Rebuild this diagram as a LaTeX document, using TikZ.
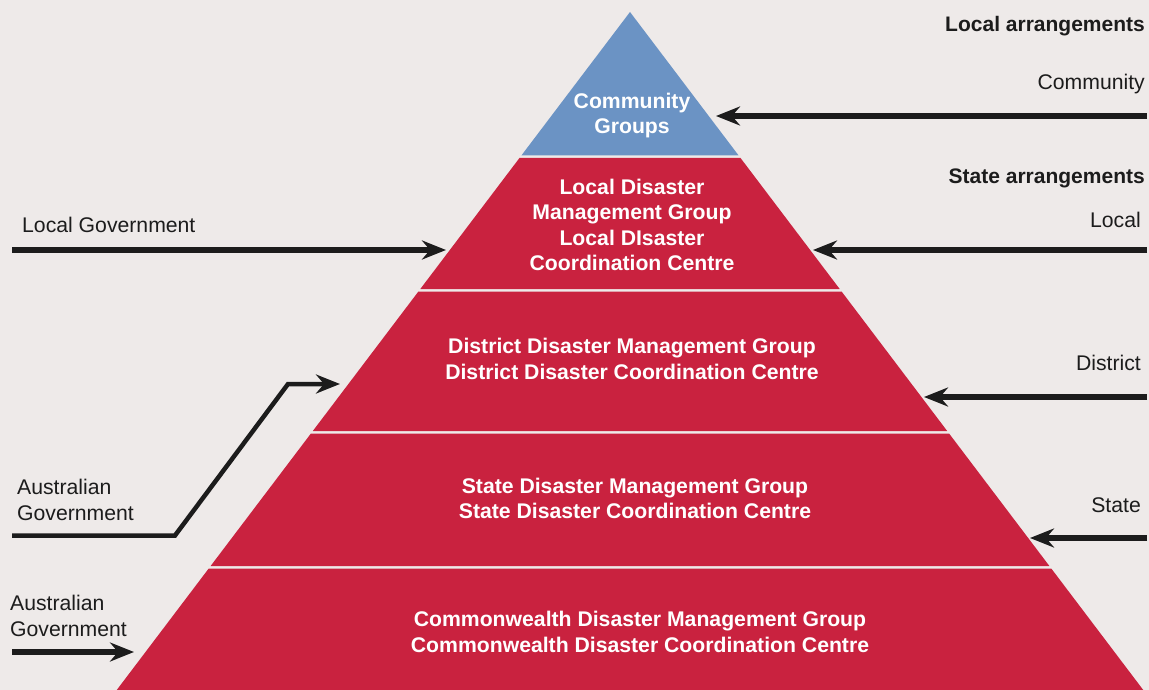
\documentclass[tikz,border=0pt]{standalone}
\usepackage{fontspec}
\setmainfont{Liberation Sans}
\usetikzlibrary{arrows.meta}
\definecolor{bgc}{HTML}{EEEAE9}
\definecolor{tierred}{HTML}{C9223F}
\definecolor{tierblue}{HTML}{6B93C4}
\definecolor{ink}{HTML}{1C1C1C}
\tikzset{
  tiertext/.style={text=white, font=\fontsize{21.2}{25.5}\selectfont\bfseries, align=center, inner sep=0pt},
  sidelabel/.style={text=ink, font=\fontsize{21.2}{26}\selectfont, inner sep=0pt},
  headlabel/.style={text=ink, font=\fontsize{21}{26}\selectfont\bfseries, inner sep=0pt},
  feed/.style={draw=ink, line width=5.5pt, line join=miter,
    -{Stealth[length=24pt, width=19pt, inset=8pt]}},
}
% left and right edge of the pyramid at height y
\newcommand{\pyrL}[1]{630-0.757*(#1-12)}
\newcommand{\pyrR}[1]{630+0.757*(#1-12)}
\begin{document}
\begin{tikzpicture}[x=1pt, y=-1pt]
\useasboundingbox (0,0) rectangle (1149,690);
\fill[bgc] (0,0) rectangle (1149,690);

% pyramid tiers
\fill[tierblue] (630,12) -- ({\pyrR{155.5}},155.5) -- ({\pyrL{155.5}},155.5) -- cycle;
\foreach \ya/\yb in {158/289, 291.5/431, 433.5/566, 568.5/690} {
  \fill[tierred] ({\pyrL{\ya}},\ya) -- ({\pyrR{\ya}},\ya) -- ({\pyrR{\yb}},\yb) -- ({\pyrL{\yb}},\yb) -- cycle;
}

% tier labels
\node[tiertext] (tcom) at (632,115.5) {Community\\Groups};
\node[tiertext] (tloc) at (632,225) {Local Disaster\\Management Group\\Local DIsaster\\Coordination Centre};
\node[tiertext] (tdis) at (632,359) {District Disaster Management Group\\District Disaster Coordination Centre};
\node[tiertext] (tsta) at (635,498.5) {State Disaster Management Group\\State Disaster Coordination Centre};
\node[tiertext] (tcw) at (640,632) {Commonwealth Disaster Management Group\\Commonwealth Disaster Coordination Centre};

% right-hand labels
\node[headlabel, anchor=east] (hlocal) at (1145,26) {Local arrangements};
\node[sidelabel, anchor=east] (lcomm) at (1145,84) {Community};
\node[headlabel, anchor=east] (hstate) at (1145,178) {State arrangements};
\node[sidelabel, anchor=east] (llocal) at (1141,220) {Local};
\node[sidelabel, anchor=east] (ldist) at (1141,363) {District};
\node[sidelabel, anchor=east] (lstate) at (1141,505) {State};

% left-hand labels
\node[sidelabel, anchor=west] (lgov) at (22,225) {Local Government};
\node[sidelabel, anchor=west, align=left] (ausA) at (17,500) {Australian\\Government};
\node[sidelabel, anchor=west, align=left] (ausB) at (10,615.5) {Australian\\Government};

% arrow ends
\coordinate (cR1) at (1147,116);  \coordinate (cT1) at (716,116);
\coordinate (cR2) at (1147,250);  \coordinate (cT2) at (813,250);
\coordinate (cR3) at (1147,397);  \coordinate (cT3) at (924,397);
\coordinate (cR4) at (1147,538);  \coordinate (cT4) at (1030,538);
\coordinate (cL1) at (12,250);    \coordinate (cT5) at (446,250);
\coordinate (cL2) at (12,535.5);  \coordinate (cK1) at (175,535.5);
\coordinate (cK2) at (288,384);   \coordinate (cT6) at (340,384);
\coordinate (cL3) at (12,652);    \coordinate (cT7) at (134,652);

% feeds into the tiers
\draw[feed] (cR1) -- (cT1);
\draw[feed] (cR2) -- (cT2);
\draw[feed] (cR3) -- (cT3);
\draw[feed] (cR4) -- (cT4);
\draw[feed] (cL1) -- (cT5);
\draw[feed, line width=4.5pt] (cL2) -- (cK1) -- (cK2) -- (cT6);
\draw[feed] (cL3) -- (cT7);
\end{tikzpicture}
\end{document}
